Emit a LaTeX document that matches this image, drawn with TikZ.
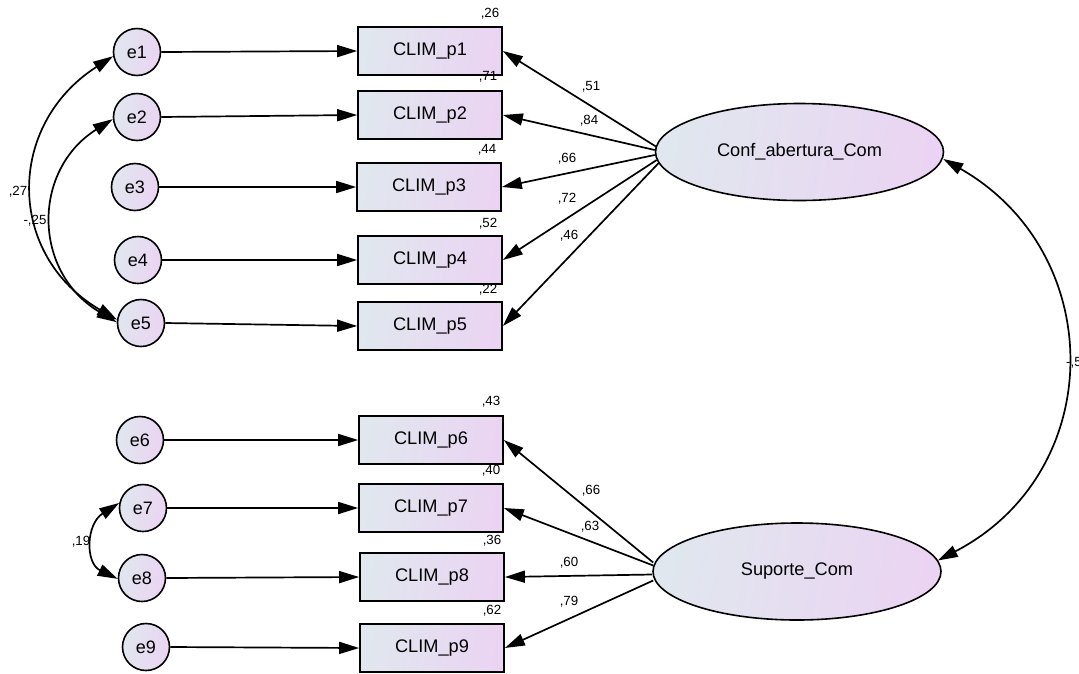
\documentclass[tikz,border=0pt]{standalone}
\usepackage{fontspec}
\setmainfont{Liberation Sans}
\usetikzlibrary{arrows.meta,calc,shapes.geometric}
\definecolor{shL}{RGB}{224,231,238}
\definecolor{shR}{RGB}{235,212,243}
\tikzset{
  fillshade/.style={left color=shL, right color=shR, shading angle=80},
  enode/.style={circle, draw=black, line width=1.6pt, minimum size=47pt, inner sep=0pt, fillshade, font=\fontsize{18}{20}\selectfont},
  obsbox/.style={rectangle, draw=black, line width=1.7pt, minimum width=144pt, minimum height=48pt, inner sep=0pt, fillshade, font=\fontsize{18.2}{20}\selectfont},
  latent/.style={ellipse, draw=black, line width=1.6pt, minimum width=288pt, minimum height=97pt, inner sep=0pt, fillshade, font=\fontsize{18.2}{20}\selectfont},
  lbl/.style={font=\fontsize{13.3}{15}\selectfont, inner sep=0pt},
  arr/.style={line width=1.7pt, -{Triangle[length=20pt,width=12pt]}},
  biarr/.style={line width=1.7pt, {Triangle[length=20pt,width=12pt]}-{Triangle[length=20pt,width=12pt]}},
}
\begin{document}
\begin{tikzpicture}[x=1pt,y=-1pt]
\useasboundingbox (0,0) rectangle (1079,673);
% error terms
\node[enode] (e1) at (137,52) {e1};
\node[enode] (e2) at (137,117) {e2};
\node[enode] (e3) at (135,187) {e3};
\node[enode] (e4) at (138,260) {e4};
\node[enode] (e5) at (141,323) {e5};
\node[enode] (e6) at (140,440) {e6};
\node[enode] (e7) at (143,508) {e7};
\node[enode] (e8) at (142,578) {e8};
\node[enode] (e9) at (146,647) {e9};
% observed
\node[obsbox] (p1) at (430,51) {CLIM\_p1};
\node[obsbox] (p2) at (430,115) {CLIM\_p2};
\node[obsbox] (p3) at (429,187) {CLIM\_p3};
\node[obsbox] (p4) at (430,260) {CLIM\_p4};
\node[obsbox] (p5) at (430,326) {CLIM\_p5};
\node[obsbox] (p6) at (431,440) {CLIM\_p6};
\node[obsbox] (p7) at (431,508) {CLIM\_p7};
\node[obsbox] (p8) at (432,577) {CLIM\_p8};
\node[obsbox] (p9) at (432,648) {CLIM\_p9};
% latents
\node[latent] (F) at (799.5,152) {Conf\_abertura\_Com};
\node[latent] (S) at (797,571.5) {Suporte\_Com};
% error arrows
\foreach \i in {1,...,9} \draw[arr] (e\i.east) -- (p\i.west);
% loadings
\draw[arr] ($(F.west)+(2,-5)$) -- (p1.east);
\draw[arr] ($(F.west)+(0,-2)$) -- (p2.east);
\draw[arr] ($(F.west)+(0,3)$) -- (p3.east);
\draw[arr] ($(F.west)+(2,8)$) -- (p4.east);
\draw[arr] ($(F.west)+(4,11)$) -- (p5.east);
\draw[arr] ($(S.west)+(1,-9)$) -- (p6.east);
\draw[arr] ($(S.west)+(1,-6)$) -- (p7.east);
\draw[arr] ($(S.west)+(0,3)$) -- (p8.east);
\draw[arr] ($(S.west)+(1,9)$) -- (p9.east);
% covariances
\draw[biarr] (e1.190) .. controls (6,125) and (6,255) .. (e5.172);
\draw[biarr] (e2.185) .. controls (32,170) and (32,272) .. (e5.178);
\draw[biarr] (e7.168) .. controls (86,524) and (85,563) .. (e8.182);
\draw[biarr] ($(F.east)+(-1,7)$) .. controls (1108,253) and (1108,472) .. ($(S.east)+(-4,-11)$);
% loading labels
\node[lbl] (l1) at (591,87) {,51};
\node[lbl] (l2) at (589,121) {,84};
\node[lbl] (l3) at (567,159) {,66};
\node[lbl] (l4) at (567,199) {,72};
\node[lbl] (l5) at (569,236) {,46};
\node[lbl] (l6) at (591,491) {,66};
\node[lbl] (l7) at (590,527) {,63};
\node[lbl] (l8) at (569,563) {,60};
\node[lbl] (l9) at (569,602) {,79};
% R2 labels
\node[lbl] (r1) at (490,14) {,26};
\node[lbl] (r2) at (488,77) {,71};
\node[lbl] (r3) at (487,150) {,44};
\node[lbl] (r4) at (488,224) {,52};
\node[lbl] (r5) at (488,290) {,22};
\node[lbl] (r6) at (491,402) {,43};
\node[lbl] (r7) at (491,471) {,40};
\node[lbl] (r8) at (492,541) {,36};
\node[lbl] (r9) at (492,611) {,62};
% covariance labels
\node[lbl] (c1) at (18,192) {,27};
\node[lbl] (c2) at (35,221) {-,25};
\node[lbl] (c3) at (81,542) {,19};
\node[lbl, anchor=west] (c4) at (1066,363) {-,5};
\end{tikzpicture}
\end{document}
